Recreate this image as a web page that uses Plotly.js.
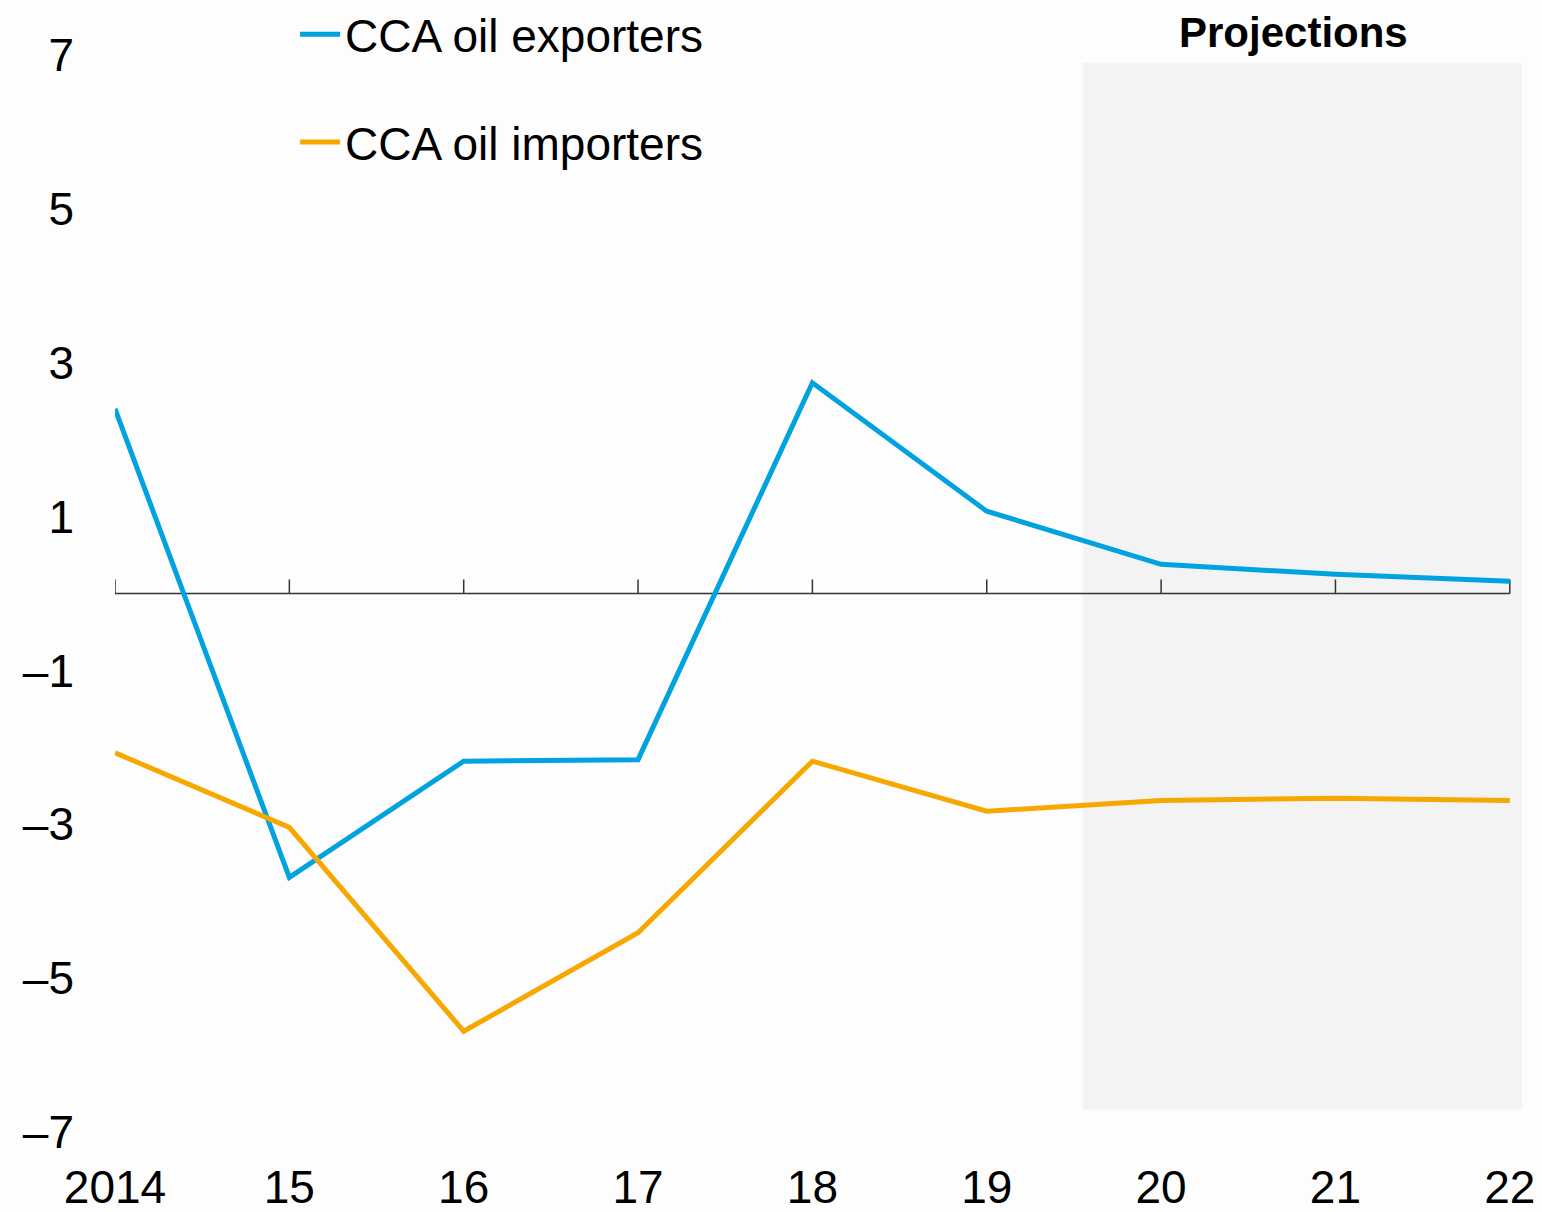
<!DOCTYPE html>
<html>
<head>
<meta charset="utf-8">
<script src="https://cdn.plot.ly/plotly-3.0.1.min.js"></script>
<style>
  html, body { margin: 0; padding: 0; background: #fdfdfd; }
  #chart { width: 1542px; height: 1212px; }
</style>
</head>
<body>
<div id="chart"></div>
<script>
// ---- Data ----
const years = [2014, 2015, 2016, 2017, 2018, 2019, 2020, 2021, 2022];
const tickLabels = ['2014', '15', '16', '17', '18', '19', '20', '21', '22'];
const exporters = [2.40, -3.69, -2.18, -2.16, 2.74, 1.07, 0.38, 0.25, 0.16];
const importers = [-2.07, -3.04, -5.69, -4.41, -2.18, -2.83, -2.69, -2.66, -2.69];
const seriesNames = ['CCA oil exporters', 'CCA oil importers'];
const yTickVals = [7, 5, 3, 1, -1, -3, -5, -7];
const yTickText = ['7', '5', '3', '1', '\u20131', '\u20133', '\u20135', '\u20137'];
const projStart = 2019.55;
const projEnd = 2022.07;
const projLow = -6.71;
const projHigh = 6.9;

const FONT = 'Liberation Sans, Arial, sans-serif';
const xRange = [2014, 2022.07];
const yRange = [-7, 7];

const traces = [
  { x: years, y: exporters, name: seriesNames[0], type: 'scatter', mode: 'lines',
    line: { color: '#00a2df', width: 5 }, legendgroup: 'a' },
  { x: years, y: importers, name: seriesNames[1], type: 'scatter', mode: 'lines',
    line: { color: '#f7a800', width: 5 }, legendgroup: 'b' }
];

const shapes = [
  { type: 'rect', xref: 'x', yref: 'y', x0: projStart, x1: projEnd, y0: projLow, y1: projHigh,
    fillcolor: '#f3f3f3', line: { width: 0 }, layer: 'below' },
  { type: 'line', xref: 'x', yref: 'y', x0: years[0], x1: years[years.length - 1], y0: 0, y1: 0,
    line: { color: '#333333', width: 1.5 }, layer: 'below' }
];
years.forEach(function (yr) {
  shapes.push({ type: 'line', xref: 'x', yref: 'y', ysizemode: 'pixel', yanchor: 0,
    x0: yr, x1: yr, y0: 0, y1: 14, line: { color: '#333333', width: 1.5 }, layer: 'below' });
});

const layout = {
  width: 1542, height: 1212,
  margin: { l: 115, r: 20, t: 55, b: 80, autoexpand: false },
  paper_bgcolor: '#fdfdfd', plot_bgcolor: '#fdfdfd',
  font: { family: FONT, size: 46, color: '#000000' },
  showlegend: true,
  legend: { x: 0.128, y: 1.053, xanchor: 'left', yanchor: 'top', bgcolor: 'rgba(0,0,0,0)',
    font: { family: FONT, size: 46, color: '#000' }, tracegroupgap: 45, itemwidth: 40 },
  xaxis: { range: xRange, tickvals: years, ticktext: tickLabels, showgrid: false, zeroline: false,
    showline: false, ticks: '', ticklabelstandoff: 24, automargin: false, tickfont: { family: FONT, size: 46 } },
  yaxis: { range: yRange, tickvals: yTickVals, ticktext: yTickText, showgrid: false, zeroline: false,
    showline: false, ticks: '', ticklabelstandoff: 40, automargin: false, tickfont: { family: FONT, size: 46 } },
  shapes: shapes,
  annotations: [
    { text: '<b>Projections</b>', xref: 'x', yref: 'paper', x: (projStart + projEnd) / 2, y: 1,
      yanchor: 'middle', yshift: 23, xshift: -9, showarrow: false, font: { family: FONT, size: 42, color: '#000' } }
  ]
};

Plotly.newPlot('chart', traces, layout, { displayModeBar: false, staticPlot: true });
</script>
</body>
</html>
